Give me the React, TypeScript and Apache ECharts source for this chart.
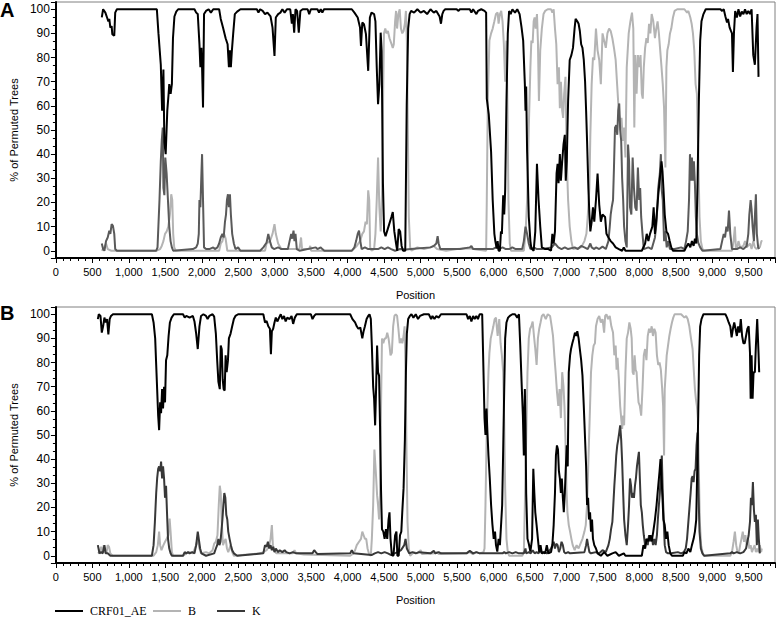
import React, { useEffect, useRef } from "react";
import * as echarts from "echarts";

// ---- Panel A data: [position, % of permuted trees] ----
const A_CRF01_AE = [[629,96.6],[647,100],[678,98.6],[701,96.6],[719,95],[732,96],[746,92.4],[764,93],[773,89.7],[800,89],[813,98.6],[836,100],[1384,100],[1406,90],[1438,77],[1456,58],[1474,75],[1487,45],[1505,40],[1527,58],[1545,65],[1554,69],[1573,65],[1590,69],[1605,88],[1625,97],[1650,99],[1676,100],[1900,100],[1923,98.6],[1945,98],[1968,85.5],[1981,76],[1995,84],[2004,76],[2017,59.3],[2031,98],[2058,99.3],[2094,100],[2125,98.6],[2157,100],[2238,100],[2260,96],[2291,92.4],[2327,88],[2354,85.5],[2372,76],[2386,83],[2399,76],[2413,83],[2431,90],[2453,98],[2485,99],[2530,100],[2755,100],[2777,98.6],[2800,100],[2835,99.3],[2867,98],[2900,98.6],[2943,97],[2970,92.4],[2997,80.7],[3015,96.6],[3047,98],[3078,98.6],[3105,100],[3136,98.6],[3168,100],[3213,100],[3235,94],[3249,98],[3267,90.3],[3285,100],[3307,99.3],[3330,90.3],[3352,99.3],[3383,100],[3451,100],[3473,98],[3496,100],[3586,100],[3608,98.6],[3631,100],[3653,98.6],[3676,100],[4057,100],[4093,98.6],[4138,96.6],[4170,92.4],[4183,84.8],[4201,94.5],[4224,93.8],[4251,89.7],[4282,74.5],[4305,96.6],[4327,98.6],[4363,98],[4381,95],[4399,76],[4417,60.7],[4435,69],[4453,90.3],[4466,82.8],[4484,28],[4500,8],[4520,6],[4560,10],[4600,14],[4619,16],[4640,8],[4664,3],[4680,0],[4700,9],[4720,8],[4740,2],[4760,0],[4790,0],[4810,60],[4830,92],[4850,98],[4870,99.3],[4911,98.6],[4956,100],[5001,98.6],[5046,99.3],[5090,98],[5136,100],[5181,98.6],[5216,99.3],[5261,97],[5280,94],[5298,98],[5316,99.3],[5338,100],[5495,100],[5517,99.3],[5540,100],[5675,100],[5697,98.6],[5720,100],[5765,98],[5787,99.3],[5832,100],[5877,99.3],[5899,98.6],[5908,63],[5935,56.5],[5967,41],[5989,21],[6012,7],[6025,4],[6043,1],[6057,4],[6070,0],[6088,0],[6102,8],[6115,7],[6133,23],[6147,15],[6160,25],[6178,62],[6196,90],[6214,99.3],[6236,98],[6259,100],[6295,98.6],[6326,100],[6358,98],[6385,92.4],[6407,87],[6430,69],[6439,58],[6448,68],[6461,41],[6484,14],[6506,4],[6519,1],[6551,0],[6573,8],[6596,36],[6618,21],[6641,10],[6663,1.4],[6708,0.7],[6753,0.7],[6789,0],[6807,7],[6825,3],[6843,8],[6865,32],[6879,36],[6892,28],[6910,40],[6924,29],[6942,37],[6960,44],[6978,48],[6991,29],[7005,37],[7023,62],[7045,79],[7068,81],[7090,84],[7113,92.4],[7126,96],[7149,95],[7167,94],[7184,91],[7202,85.5],[7220,84],[7238,79],[7256,70],[7270,58],[7283,45.5],[7301,26],[7315,15],[7328,8],[7346,12],[7364,18],[7382,12],[7405,21],[7427,32],[7450,19],[7472,12],[7495,15],[7530,14],[7549,7],[7576,5.5],[7607,4],[7639,3],[7675,1.4],[7719,0.7],[7764,0],[7787,1.4],[7809,0],[8034,0],[8079,3],[8101,7],[8124,4],[8146,7],[8178,10],[8196,18],[8214,7],[8236,14],[8259,23],[8281,30],[8304,37],[8317,33],[8330,26],[8348,15],[8371,8],[8393,7],[8416,4],[8438,1.4],[8461,0],[8618,0],[8641,1.4],[8672,3],[8699,1.4],[8721,4],[8744,2],[8762,5],[8780,3],[8798,28],[8816,62],[8834,87],[8852,95],[8879,98],[8910,100],[9112,100],[9135,99.3],[9157,100],[9180,97],[9202,94.5],[9216,96],[9238,92.4],[9256,91],[9270,90],[9283,74],[9297,90],[9314,99.3],[9337,96.6],[9359,100],[9382,97],[9404,99],[9427,98],[9449,100],[9472,98],[9494,99.3],[9517,98],[9539,100],[9562,81],[9584,77],[9607,92.4],[9620,98],[9634,72]];

const A_B = [[629,0],[665,1.4],[687,3],[710,0.7],[760,0],[1375,0],[1429,0.7],[1451,2],[1474,4],[1496,7],[1519,8],[1541,10],[1563,15],[1581,23.4],[1595,21],[1608,7],[1622,1.4],[1644,0],[2238,0],[2260,3],[2283,4],[2305,7],[2327,5],[2350,0],[2867,0],[2889,3],[2934,4],[2970,7],[2997,11],[3015,7],[3047,3],[3091,0.7],[3339,0.7],[3361,5.5],[3375,0.7],[3473,0.7],[3487,2],[3500,0],[4057,0],[4125,2],[4170,4],[4201,7],[4224,8],[4246,12],[4264,11],[4282,25],[4296,21],[4309,1.4],[4327,0],[4363,0.7],[4381,7],[4399,21],[4417,38.6],[4435,18],[4453,8],[4471,23],[4484,58],[4498,90],[4516,92],[4534,90],[4552,91],[4574,88],[4597,86],[4619,84],[4633,85.5],[4651,95],[4664,99.3],[4678,92],[4696,98],[4714,100],[4731,92],[4749,90],[4767,91],[4785,94],[4799,99.3],[4812,87],[4826,48],[4839,14],[4857,1.4],[4875,0],[4956,1.4],[5046,0.7],[5136,1.4],[5181,2],[5226,0.7],[5350,0],[5500,0.7],[5675,1],[5765,0.5],[5899,0],[5908,21],[5922,62],[5944,87],[5967,90],[5989,92],[6012,95],[6034,98],[6057,98.6],[6070,94],[6088,98],[6106,99.3],[6124,95],[6142,85.5],[6160,70],[6178,87],[6192,59],[6205,21],[6223,3],[6241,0],[6416,0],[6439,7],[6461,21],[6484,51],[6506,76],[6519,87],[6537,86],[6551,95],[6564,96.6],[6578,92],[6596,98],[6609,87],[6623,62],[6641,83],[6663,92],[6686,98],[6708,99.3],[6744,100],[6789,100],[6807,98.6],[6825,100],[6843,92],[6861,85.5],[6879,69],[6897,76],[6910,59],[6924,70],[6942,58],[6955,55],[6969,65],[6987,72],[7005,37],[7023,21],[7045,10],[7068,4],[7090,0.7],[7202,1.4],[7247,4],[7274,7],[7292,14],[7315,26],[7328,48],[7346,69],[7364,80],[7382,79],[7405,92],[7427,83],[7450,79],[7472,69],[7495,90],[7517,87],[7540,84],[7562,90],[7585,92],[7607,91],[7630,88],[7652,84],[7675,79],[7697,68],[7719,57],[7742,51],[7755,55],[7773,45.5],[7791,51],[7809,38.6],[7827,76],[7854,90],[7877,95],[7899,98.6],[7917,92],[7931,51],[7944,81],[7962,65],[7980,81],[7998,76],[8016,81],[8034,65],[8047,63],[8061,76],[8079,84],[8097,88],[8115,86],[8133,94],[8151,90],[8169,98],[8191,95],[8214,88],[8232,92],[8250,95],[8268,90],[8286,83],[8304,76],[8321,69],[8339,59],[8357,34.5],[8371,76],[8384,83],[8402,85.5],[8420,90],[8438,92],[8461,96.6],[8483,99.3],[8519,100],[8618,100],[8654,98.6],[8672,99.3],[8699,96.6],[8717,94],[8735,90],[8753,83],[8771,69],[8789,65],[8807,41],[8825,14],[8843,4],[8865,0.7],[8888,0],[9270,0],[9292,4],[9310,10],[9323,1.4],[9337,0.7],[9359,4],[9382,1.4],[9427,2],[9449,4],[9472,1.4],[9517,3],[9539,0.7],[9562,4],[9584,1.4],[9607,0.7],[9629,1.4],[9652,1.4],[9674,4],[9688,4]];

const A_K = [[629,3],[647,0.7],[665,0],[687,4],[710,5.5],[732,8.3],[746,7],[764,11],[782,10.3],[800,7],[813,0.7],[836,0],[1375,0],[1393,1.4],[1420,21],[1438,37],[1451,45.5],[1465,51],[1474,26],[1487,23],[1500,38.6],[1518,32],[1536,21],[1554,10],[1572,4],[1590,1.4],[1608,0],[1878,0.7],[1923,1.4],[1945,3],[1959,7],[1968,21],[1981,18],[1995,32],[2004,40],[2017,21],[2031,1.4],[2058,0.7],[2103,0.7],[2157,1.4],[2180,0.7],[2215,1.4],[2238,3],[2260,5.5],[2283,7],[2300,5.5],[2318,12],[2332,15],[2345,21],[2359,23.4],[2372,18],[2386,23.4],[2399,15],[2417,7],[2440,3],[2462,0.7],[2498,1.4],[2530,0],[2800,0],[2844,1.4],[2889,3.4],[2912,7],[2934,4],[2960,1.4],[2990,0.7],[3047,1.4],[3091,0.7],[3181,0.7],[3204,4],[3226,7],[3240,5],[3258,8.3],[3271,4],[3285,7],[3303,0.7],[3340,0],[3563,1.4],[3586,0.7],[3631,1.4],[3653,0.7],[3680,0],[4057,0],[4093,1.4],[4116,4],[4138,7],[4156,8.3],[4174,4],[4192,0.7],[4237,1.4],[4282,0.7],[4340,0.7],[4417,0.7],[4462,1.4],[4507,0.7],[4552,1.4],[4597,0.7],[4650,0],[4720,0.7],[4800,0.5],[4866,0.7],[5136,1.4],[5181,2],[5216,3],[5234,6],[5248,3],[5270,0.7],[5540,0.7],[5675,1.4],[5697,2],[5720,0.7],[5989,0.7],[6034,1.4],[6079,0.7],[6124,1.4],[6169,0.7],[6214,0.7],[6259,1.4],[6304,0.7],[6394,0.7],[6416,4],[6439,10],[6461,7],[6484,3],[6506,0.7],[6551,1.4],[6596,0.7],[6663,0.7],[6798,1.4],[6843,3],[6888,1.4],[6933,0.7],[6978,1.4],[7023,0.7],[7113,1.4],[7157,0.7],[7202,2],[7247,1.4],[7292,0.7],[7328,3],[7346,1.4],[7382,0.7],[7405,1.4],[7450,0.7],[7495,1.7],[7540,0.7],[7576,4],[7594,10],[7607,15],[7621,18],[7639,21],[7652,34.5],[7666,51],[7683,52],[7697,48],[7710,58],[7724,61],[7737,50],[7751,45.5],[7764,30],[7778,21],[7791,10],[7809,4],[7827,1.4],[7845,44],[7859,37],[7872,18],[7890,15],[7908,38.6],[7926,26],[7944,18],[7962,16.6],[7980,34.5],[7998,21],[8011,26],[8025,14],[8043,7],[8061,0.7],[8124,1.4],[8169,0.7],[8214,5.5],[8236,12],[8259,26],[8281,32],[8295,40],[8304,26],[8321,21],[8339,4],[8357,8],[8375,1.4],[8393,4],[8420,0.7],[8483,0.7],[8573,1.4],[8618,0.7],[8641,4],[8663,8],[8681,21],[8694,40],[8708,29],[8721,38.6],[8735,29],[8748,37],[8762,27.6],[8775,14],[8789,7],[8807,3.4],[8834,1.4],[8865,0],[9112,0.7],[9135,4],[9157,7],[9175,5.5],[9193,10],[9211,8],[9229,16.6],[9247,7],[9270,0.7],[9337,0.7],[9382,1.4],[9427,0.7],[9472,2],[9494,7],[9508,15],[9526,21],[9539,17],[9553,10],[9571,4],[9584,14],[9598,23.4],[9611,7],[9629,1.4],[9643,0.7]];

// ---- Panel B data ----
const B_CRF01_AE = [[575,98],[588,100],[611,99.3],[629,92.4],[647,95],[665,98.6],[683,96.6],[701,98],[719,91.7],[737,98],[755,99.3],[782,100],[1316,100],[1339,96.6],[1361,90],[1375,79],[1388,69],[1402,58],[1415,52],[1429,63.5],[1442,59],[1456,69],[1469,61],[1483,70],[1496,63.5],[1510,81],[1527,83],[1545,91],[1563,96.6],[1586,98.6],[1617,100],[1743,100],[1766,98.6],[1788,99.3],[1833,98.6],[1878,99.3],[1900,97],[1923,92],[1945,85.6],[1968,95],[1990,99.3],[2022,100],[2058,99.3],[2080,98],[2103,99.3],[2148,100],[2170,99],[2193,92],[2211,81],[2228,72],[2247,69],[2260,87],[2274,85.5],[2287,73],[2300,69],[2314,68.4],[2327,83],[2341,76],[2359,81],[2372,90],[2395,92],[2417,95],[2440,98],[2462,99.3],[2498,100],[2844,100],[2867,96.6],[2889,97.2],[2912,95],[2934,94],[2948,83.5],[2961,93],[2979,94],[2997,96.6],[3015,98.6],[3038,97],[3060,98.6],[3083,100],[3105,98],[3128,99.3],[3150,97],[3172,98.6],[3204,98],[3231,99.3],[3253,96],[3276,98.6],[3303,100],[3496,100],[3518,98],[3541,99.3],[3563,100],[4035,100],[4066,98],[4102,96.6],[4125,95],[4147,94],[4174,94.5],[4201,90],[4219,93],[4237,95],[4260,98],[4282,99.3],[4300,100],[4318,98],[4332,87],[4350,70],[4363,65],[4377,54],[4390,69],[4404,87],[4417,76],[4431,74.6],[4444,54],[4458,27],[4471,11],[4489,10],[4507,7],[4525,11],[4543,7],[4561,15],[4574,18],[4588,7],[4606,0.3],[4628,0],[4651,8.5],[4669,10],[4682,0],[4700,0],[4718,8.5],[4736,10],[4749,18],[4767,28],[4785,48],[4799,76],[4812,92],[4830,98],[4853,99.3],[4875,100],[4902,98.6],[4934,100],[4965,98],[4992,99.3],[5046,100],[5113,100],[5145,98],[5163,99.3],[5190,98],[5216,99.3],[5248,98.6],[5280,100],[5630,100],[5652,98],[5675,99.3],[5697,97],[5720,99.3],[5742,98],[5765,99.3],[5787,98],[5810,100],[5845,100],[5863,76],[5877,57],[5890,50],[5904,61],[5917,51],[5931,41.5],[5949,32],[5967,21],[5985,13],[6003,7],[6021,10],[6034,4.4],[6052,1.7],[6070,7],[6088,4.4],[6106,14],[6119,21],[6133,44],[6147,69],[6160,90],[6178,96.6],[6200,98.6],[6223,99.3],[6259,100],[6295,100],[6326,98.6],[6349,100],[6367,87],[6385,72],[6403,58],[6416,41.5],[6430,69],[6439,54],[6448,26],[6466,7],[6484,5],[6506,1.7],[6529,7],[6546,36],[6560,26],[6573,18],[6591,12.7],[6609,7],[6627,1.5],[6645,4.4],[6663,1],[6686,1.5],[6708,1],[6731,4.4],[6753,1],[6789,1.5],[6807,4.4],[6825,12.7],[6843,26],[6856,41.5],[6870,45.7],[6884,44],[6897,35],[6910,32],[6924,26],[6937,32],[6951,24],[6964,18],[6978,26],[6991,36],[7005,45.7],[7018,37],[7032,76],[7050,83],[7063,85.6],[7081,88],[7099,90],[7117,92.4],[7135,91],[7149,93],[7167,90],[7184,85.6],[7202,81],[7220,74.6],[7238,62],[7256,48],[7270,37],[7283,21],[7297,24],[7310,15],[7324,18],[7337,10],[7351,15],[7364,7],[7382,4.4],[7405,3],[7427,1],[7472,0],[7517,1.5],[7562,0],[7630,1],[7675,1.5],[7719,0],[7787,1],[7809,0],[8034,0],[8056,4.4],[8079,3],[8101,7],[8124,6],[8146,8.5],[8169,6],[8191,10],[8214,15],[8236,21],[8259,29],[8277,35],[8290,40],[8304,32],[8317,24],[8330,15],[8348,12.7],[8366,7],[8384,10],[8402,4.4],[8425,1],[8447,0],[8596,0],[8618,1.5],[8645,1],[8672,3],[8699,1.5],[8721,4.4],[8744,7],[8762,10],[8780,15],[8793,35],[8807,58],[8820,83],[8834,95],[8852,98],[8879,100],[9180,100],[9202,98.6],[9225,96.6],[9247,95],[9265,90.4],[9283,94],[9301,96.6],[9319,94],[9337,91],[9355,95],[9373,92.4],[9391,98],[9409,91],[9427,88],[9445,88],[9463,91],[9481,94],[9499,95],[9517,84],[9526,65],[9539,83],[9553,65],[9566,76],[9584,76],[9598,87],[9616,98],[9634,84],[9643,76]];

const B_B = [[575,1],[597,1.4],[620,3.7],[642,1.4],[656,4.4],[674,1.4],[692,1],[710,4.4],[728,3.7],[746,1],[777,0],[1339,0],[1375,1.5],[1397,4.4],[1415,10],[1429,4.4],[1447,2.3],[1474,4.4],[1496,5.8],[1519,7],[1541,8.5],[1559,15.4],[1572,10],[1590,1.5],[1608,0],[1743,0],[1788,1],[1833,1.5],[1878,1],[1923,4.4],[1945,7],[1968,3],[1990,1],[2058,1.5],[2103,1],[2148,2.3],[2170,5],[2193,5.8],[2215,8.5],[2233,21],[2247,29],[2260,26],[2274,14],[2291,4.4],[2309,5.8],[2327,7],[2345,3],[2363,1.5],[2395,4.4],[2417,1.5],[2440,0],[2800,1],[2844,1.5],[2889,2.3],[2925,4.4],[2943,7],[2961,12.7],[2975,4.4],[2988,2.3],[3024,1],[3249,1],[3271,2.3],[3294,1],[3400,0.5],[4035,0],[4080,1],[4102,2.3],[4125,4.4],[4156,5.8],[4183,7],[4201,10],[4219,8.5],[4237,7],[4255,7],[4273,3],[4291,1],[4318,0],[4332,7],[4350,21],[4367,44],[4386,35],[4404,25],[4417,21],[4431,15],[4444,25],[4458,62],[4471,90],[4489,88],[4507,90],[4525,90],[4543,92.4],[4561,90],[4574,87],[4588,83],[4606,84],[4624,95],[4642,99.3],[4660,100],[4678,99.3],[4696,94],[4714,88],[4731,90],[4749,88],[4767,91],[4781,95],[4794,76],[4808,41.5],[4821,14],[4839,3],[4857,0],[4911,1.5],[4956,1],[5001,2.3],[5020,0.7],[5203,1],[5226,1.5],[5250,0.7],[5630,1],[5666,1.5],[5720,0.7],[5765,1.5],[5810,1],[5863,1.5],[5877,3],[5890,21],[5904,45.7],[5917,62],[5931,76],[5944,84],[5962,90],[5980,92.4],[5998,95],[6016,98],[6034,98.6],[6057,91],[6079,98],[6097,88],[6115,83],[6133,76],[6147,55],[6160,28],[6178,7],[6196,1.5],[6214,0],[6394,0],[6416,1.5],[6430,21],[6448,48],[6466,76],[6484,90],[6502,94],[6519,95],[6537,97],[6555,91],[6573,85.6],[6591,79],[6609,90],[6627,94],[6645,96.6],[6663,99.3],[6686,100],[6717,98],[6744,100],[6776,99.3],[6798,95],[6816,91],[6834,83],[6852,76],[6870,68],[6888,62],[6906,69],[6924,57],[6942,76],[6960,70],[6973,62],[6987,48],[7000,28],[7014,18],[7032,12.7],[7050,10],[7068,7],[7086,4.4],[7113,2.3],[7140,4.4],[7167,3],[7193,5],[7220,7],[7247,10],[7265,12.7],[7283,21],[7297,35],[7310,48],[7324,62],[7337,76],[7355,83],[7373,87],[7391,88],[7405,95],[7427,98],[7450,99.3],[7472,96.6],[7495,98],[7517,92.4],[7531,99.3],[7549,100],[7571,98],[7594,99.3],[7616,95],[7639,92.4],[7657,83],[7675,87],[7688,77],[7701,82],[7719,73],[7737,62],[7751,57],[7764,52.5],[7778,58],[7791,54],[7809,76],[7827,90],[7845,92.4],[7863,96.6],[7881,94],[7895,90],[7908,76],[7922,75],[7935,83],[7949,77],[7962,76],[7976,69],[7989,63.5],[8007,62],[8025,58],[8043,69],[8061,83],[8079,85.6],[8097,81],[8115,91],[8133,94],[8151,92.4],[8169,95],[8187,91],[8205,94],[8223,92.4],[8241,83],[8259,79],[8277,80],[8295,77],[8313,69],[8326,62],[8339,41.5],[8348,69],[8362,76],[8375,83],[8393,87],[8411,91],[8429,94],[8447,96.6],[8465,98.6],[8483,100],[8573,100],[8618,98.6],[8641,99.3],[8663,98],[8685,95],[8708,90],[8730,85.6],[8748,76],[8762,69],[8775,65],[8789,62],[8802,57],[8816,35],[8829,14],[8847,4.4],[8870,1],[8888,0],[9247,0],[9270,1.5],[9292,5.8],[9310,10],[9328,4.4],[9346,1.5],[9364,1],[9382,4.4],[9400,7],[9418,10],[9436,5.8],[9454,8.5],[9472,4.4],[9490,7],[9508,3],[9526,4.4],[9544,1.5],[9562,3],[9580,4.4],[9598,1.5],[9616,3],[9634,1.5],[9652,4.4],[9670,1.5],[9679,3]];

const B_K = [[575,4.4],[597,1],[620,1.5],[642,1],[665,4.4],[683,1],[710,1],[746,0],[1316,0],[1339,4.4],[1357,14],[1375,26],[1388,32],[1402,36],[1415,37],[1429,35],[1442,39],[1456,32],[1469,37],[1483,32],[1496,24],[1510,29],[1523,18],[1537,7],[1554,3],[1572,1],[1590,0],[1743,0],[1766,1.5],[1788,1],[1811,1.5],[1833,1],[1869,1.5],[1900,1],[1923,4.4],[1945,10],[1959,7],[1977,3],[1995,1],[2058,0],[2170,1],[2193,3],[2211,4.4],[2228,7],[2242,4.4],[2256,5.8],[2269,10],[2283,15],[2296,21],[2309,26],[2323,24],[2336,17],[2350,15],[2363,10],[2381,7],[2399,4.4],[2417,2.3],[2440,1],[2485,0],[2844,1],[2867,4.4],[2889,3.7],[2907,5.8],[2925,3],[2943,4.4],[2961,2.3],[2979,3.7],[2997,1.5],[3015,3],[3047,1.5],[3069,2.3],[3105,1.5],[3136,2.3],[3159,1.5],[3204,1],[3249,1.5],[3294,1],[3518,1],[3541,2.3],[3563,1.5],[3586,0.7],[4035,1],[4057,2.3],[4080,1],[4327,0.3],[4372,1],[4417,1.5],[4462,1],[4507,1.5],[4552,1],[4597,0.3],[4642,1],[4687,1.5],[4731,2.3],[4776,4.4],[4794,7],[4812,3],[4844,1],[4889,1.5],[4934,1],[4979,1.5],[5136,1],[5181,2],[5203,1],[5248,1.5],[5280,1],[5630,1],[5675,2],[5720,1],[5765,1.5],[5810,1],[6124,1],[6147,1.5],[6169,1],[6214,1.5],[6259,1],[6304,1.5],[6349,1],[6416,1],[6439,3],[6448,1],[6484,1.5],[6511,1],[6537,2.3],[6564,1],[6591,1.5],[6618,1],[6645,2.3],[6663,1],[6708,1.5],[6731,1],[6753,1.5],[6789,3],[6807,4.4],[6825,5.8],[6843,3],[6861,5],[6879,4.4],[6897,1.5],[6915,3],[6933,5.8],[6951,4.4],[6969,1.5],[6987,1],[7023,1.5],[7050,1],[7247,1.5],[7270,4.4],[7283,7],[7297,4.4],[7315,1.5],[7337,1],[7405,1.5],[7450,1],[7495,2.3],[7540,1.5],[7576,4.4],[7594,7],[7612,11],[7630,14],[7643,21],[7657,29],[7670,35],[7683,41.5],[7697,45.7],[7710,48],[7724,51],[7737,54],[7751,48],[7764,39],[7778,26],[7791,15],[7809,8.5],[7827,4.4],[7845,12.7],[7859,21],[7872,32],[7886,29],[7899,24],[7913,26],[7926,24],[7940,29],[7953,32],[7967,37],[7980,40],[7994,43],[8007,32],[8020,21],[8034,18],[8047,12.7],[8061,8.5],[8079,4.4],[8097,7],[8115,4.4],[8133,8.5],[8151,6],[8169,8.5],[8187,4.4],[8205,7],[8223,4.4],[8241,8.5],[8254,15],[8268,21],[8281,26],[8295,35],[8308,41.5],[8321,26],[8335,14],[8348,4.4],[8366,1.5],[8393,1],[8438,1],[8528,1.5],[8573,1],[8609,1.5],[8636,3],[8654,7],[8672,14],[8690,21],[8703,26],[8717,32],[8730,33],[8744,30.5],[8757,35],[8771,36],[8784,45.7],[8798,51],[8811,26],[8825,10],[8843,3],[8865,1],[8888,0],[9247,1],[9270,1.5],[9292,1],[9337,1.5],[9382,1],[9427,1.5],[9463,3],[9481,5.8],[9499,8.5],[9517,14],[9530,24],[9544,21],[9557,30.5],[9571,19],[9584,14],[9598,17],[9611,4.4],[9625,15],[9638,7],[9652,1]];

const SERIES_NAMES = ["CRF01_AE", "B", "K"];
const PANEL_LABELS = ["A", "B"];
const X_AXIS_TITLE = "Position";
const Y_AXIS_TITLE = "% of Permuted Trees";

const COLOR_CRF = "#000000";
const COLOR_B = "#b4b4b4";
const COLOR_K_A = "#5a5a5a";
const COLOR_K_B = "#383838";

const FONT = "'Liberation Sans', Arial, sans-serif";

function makeXAxis(gridIndex: number) {
  return {
    type: "value",
    gridIndex,
    min: 0,
    max: 9860,
    interval: 500,
    name: X_AXIS_TITLE,
    nameLocation: "middle",
    nameGap: 31,
    nameTextStyle: { fontSize: 11, color: "#000", fontFamily: FONT },
    axisLine: { show: true, onZero: false, lineStyle: { color: "#000", width: 2 } },
    axisTick: { show: true, length: 5, lineStyle: { color: "#000", width: 1 } },
    minorTick: { show: true, splitNumber: 5, length: 3, lineStyle: { color: "#000", width: 1 } },
    axisLabel: {
      fontSize: 11,
      color: "#000",
      fontFamily: FONT,
      margin: 8,
      showMaxLabel: false,
      formatter: (v: number) => (v % 500 === 0 ? v.toLocaleString("en-US") : ""),
    },
    splitLine: { show: false },
    minorSplitLine: { show: false },
  };
}

function makeYAxis(gridIndex: number) {
  return {
    type: "value",
    gridIndex,
    min: -3,
    max: 103,
    splitNumber: 10,
    name: Y_AXIS_TITLE,
    nameLocation: "middle",
    nameGap: 28,
    nameTextStyle: { fontSize: 11, color: "#000", fontFamily: FONT },
    axisLine: { show: true, onZero: false, lineStyle: { color: "#000", width: 2 } },
    axisTick: { show: true, length: 5, lineStyle: { color: "#000", width: 1 } },
    minorTick: { show: true, splitNumber: 3, length: 3, lineStyle: { color: "#000", width: 1 } },
    axisLabel: {
      fontSize: 12,
      color: "#000",
      fontFamily: FONT,
      margin: 6,
      formatter: (v: number) => (Math.abs(v % 10) < 1e-9 && v >= 0 && v <= 100 ? String(v) : ""),
    },
    splitLine: { show: false },
    minorSplitLine: { show: false },
  };
}

function line(name: string, data: number[][], idx: number, color: string, z: number) {
  return {
    type: "line",
    name,
    xAxisIndex: idx,
    yAxisIndex: idx,
    data,
    showSymbol: false,
    symbol: "none",
    silent: true,
    z,
    lineStyle: { color, width: 2 },
    itemStyle: { color },
  };
}

export default function App() {
  const ref = useRef<HTMLDivElement>(null);
  useEffect(() => {
    if (!ref.current) return;
    const chart = echarts.init(ref.current, undefined, { renderer: "svg" });
    const legendBase = {
      top: 605,
      icon: "rect",
      itemWidth: 28,
      itemHeight: 2,
      padding: 0,
      itemGap: 10,
      selectedMode: false,
      textStyle: { fontFamily: "'Liberation Serif', 'Times New Roman', serif", fontSize: 12, color: "#000", padding: [0, 0, 0, 2] },
    };
    chart.setOption({
      animation: false,
      backgroundColor: "#fff",
      textStyle: { fontFamily: FONT },
      title: [
        { text: PANEL_LABELS[0], left: 0, top: 0, padding: 0, textStyle: { fontSize: 20, fontWeight: "bold", color: "#000", fontFamily: FONT } },
        { text: PANEL_LABELS[1], left: 0, top: 303, padding: 0, textStyle: { fontSize: 20, fontWeight: "bold", color: "#000", fontFamily: FONT } },
      ],
      legend: [
        { ...legendBase, left: 55, data: [{ name: SERIES_NAMES[0], itemStyle: { color: COLOR_CRF } }] },
        { ...legendBase, left: 153, data: [{ name: SERIES_NAMES[1], itemStyle: { color: COLOR_B } }] },
        { ...legendBase, left: 217, data: [{ name: SERIES_NAMES[2], itemStyle: { color: COLOR_K_B } }] },
      ],
      grid: [
        { left: 44, right: 2, top: 2, height: 256, show: true, borderColor: "#808080", borderWidth: 1, backgroundColor: "transparent" },
        { left: 44, right: 2, top: 307, height: 256, show: true, borderColor: "#808080", borderWidth: 1, backgroundColor: "transparent" },
      ],
      xAxis: [makeXAxis(0), makeXAxis(1)],
      yAxis: [makeYAxis(0), makeYAxis(1)],
      series: [
        line(SERIES_NAMES[1], B_B, 1, COLOR_B, 2),
        line(SERIES_NAMES[2], B_K, 1, COLOR_K_B, 3),
        line(SERIES_NAMES[0], B_CRF01_AE, 1, COLOR_CRF, 4),
        line(SERIES_NAMES[1], A_B, 0, COLOR_B, 2),
        line(SERIES_NAMES[2], A_K, 0, COLOR_K_A, 3),
        line(SERIES_NAMES[0], A_CRF01_AE, 0, COLOR_CRF, 4),
      ],
    });
    return () => chart.dispose();
  }, []);
  return <div ref={ref} style={{ position: "absolute", left: 0, top: 0, width: 777, height: 623 }} />;
}
